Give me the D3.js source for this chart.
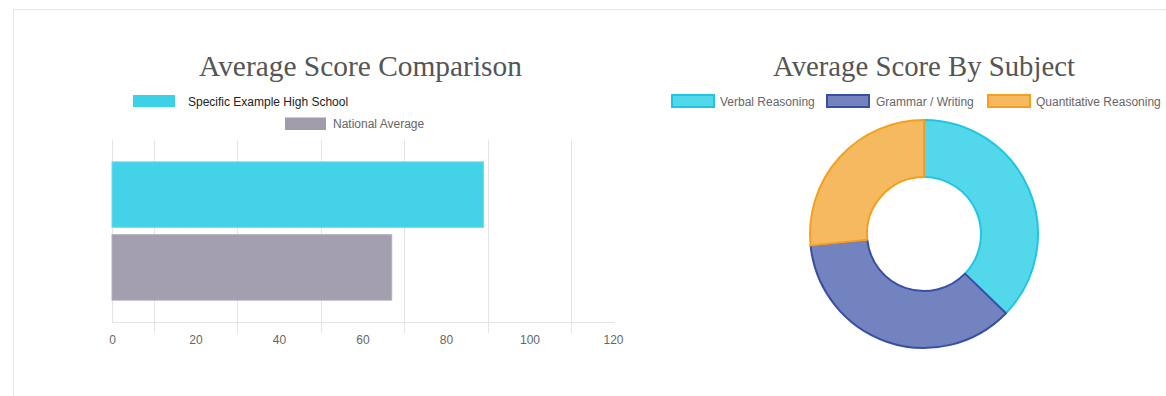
<!DOCTYPE html>
<html>
<head>
<meta charset="utf-8">
<script src="https://cdn.jsdelivr.net/npm/d3@7"></script>
<style>
  html, body { margin: 0; padding: 0; background: #fff; }
  svg { display: block; }
</style>
</head>
<body>
<svg id="chart" width="1166" height="396"></svg>
<script>
// ---- data ----
const barCategories = [""];
const barSeries = ["Specific Example High School", "National Average"];
const schoolValues = [89];
const nationalValues = [67];
const xTicks = [0, 20, 40, 60, 80, 100, 120];

const subjects = ["Verbal Reasoning", "Grammar / Writing", "Quantitative Reasoning"];
const subjectValues = [35, 34, 25];

// ---- styles ----
const barFill = ["#3dd1e7", "#a09cac"];
const barStroke = ["#6fdcec", "#b4b0be"];
const pieFill = ["#52d8ea", "#7383c0", "#f5ba60"];
const pieStroke = ["#1fc6e3", "#3a4fa3", "#f3a020"];
const grid = "#e4e4e4";

const svg = d3.select("#chart");

// panel border
svg.append("line").attr("x1", 13.5).attr("x2", 1166).attr("y1", 9.5).attr("y2", 9.5)
  .attr("stroke", "#e6e6e6").attr("stroke-width", 1);
svg.append("line").attr("x1", 13.5).attr("x2", 13.5).attr("y1", 9.5).attr("y2", 396)
  .attr("stroke", "#e6e6e6").attr("stroke-width", 1);

function fitTitle(text, cx, baseline, width) {
  const t = svg.append("text").text(text)
    .attr("x", cx).attr("y", baseline).attr("text-anchor", "middle")
    .attr("font-family", "'Liberation Serif', 'DejaVu Serif', serif")
    .attr("font-size", 26).attr("fill", "#555");
  const w = t.node().getComputedTextLength();
  t.attr("font-size", 26 * width / w);
  return t;
}

// ---- Left: horizontal bar chart ----
fitTitle("Average Score Comparison", 360.5, 76, 323);

const x = d3.scaleLinear().domain([0, 120]).range([112, 613]);
const plotTop = 140, plotBottom = 322;
const yCat = d3.scaleBand().domain(barCategories).range([plotTop, plotBottom]);

// grid (offset between ticks)
const gridVals = d3.range(10, 120, 20);
svg.append("g").selectAll("line").data(gridVals).join("line")
  .attr("x1", d => Math.round(x(d)) + 0.5).attr("x2", d => Math.round(x(d)) + 0.5)
  .attr("y1", plotTop).attr("y2", 333)
  .attr("stroke", grid).attr("stroke-width", 1);

// axis lines
svg.append("line").attr("x1", 112.5).attr("x2", 112.5).attr("y1", plotTop).attr("y2", plotBottom)
  .attr("stroke", grid);
svg.append("line").attr("x1", 112).attr("x2", 615).attr("y1", plotBottom + 0.5).attr("y2", plotBottom + 0.5)
  .attr("stroke", grid);

// bars
const seriesData = [schoolValues, nationalValues];
barCategories.forEach((cat, ci) => {
  const bw = yCat.bandwidth();
  const y0 = yCat(cat);
  const ySer = d3.scaleBand().domain(barSeries)
    .range([y0 + bw * 0.1, y0 + bw * 0.9]);
  barSeries.forEach((s, si) => {
    const v = seriesData[si][ci];
    const h = ySer.bandwidth() * 0.9;
    const yy = ySer(s) + ySer.bandwidth() * 0.05;
    svg.append("rect")
      .attr("x", x(0)).attr("y", yy)
      .attr("width", x(v) - x(0)).attr("height", h)
      .attr("fill", barFill[si]).attr("fill-opacity", 0.97)
      .attr("stroke", barStroke[si]).attr("stroke-width", 1);
  });
});

// x-axis tick labels
const xAxis = d3.axisBottom(x).tickValues(xTicks).tickSize(0).tickPadding(0);
const gx = svg.append("g").attr("transform", `translate(0,${plotBottom})`).call(xAxis);
gx.select(".domain").remove();
gx.selectAll("text").attr("y", 21.5).attr("dy", 0)
  .attr("font-family", "'Liberation Sans', Arial, sans-serif")
  .attr("font-size", 12).attr("fill", "#666");

// left legend
const legFont = "'Liberation Sans', Arial, sans-serif";
svg.append("rect").attr("x", 133).attr("y", 95).attr("width", 42).attr("height", 12).attr("fill", barFill[0]);
svg.append("text").text(barSeries[0]).attr("x", 188).attr("y", 105.5)
  .attr("font-family", legFont).attr("font-size", 12).attr("fill", "#222");
svg.append("rect").attr("x", 285).attr("y", 117.5).attr("width", 41).attr("height", 12.5).attr("fill", barFill[1]);
svg.append("text").text(barSeries[1]).attr("x", 333).attr("y", 128)
  .attr("font-family", legFont).attr("font-size", 12).attr("fill", "#666");

// ---- Right: doughnut ----
fitTitle("Average Score By Subject", 924, 76, 302);

const legendX = [672, 827, 988];
const legendTextX = [720, 876, 1036];
subjects.forEach((s, i) => {
  svg.append("rect").attr("x", legendX[i]).attr("y", 95).attr("width", 42).attr("height", 12)
    .attr("fill", pieFill[i]).attr("stroke", pieStroke[i]).attr("stroke-width", 2);
  svg.append("text").text(s).attr("x", legendTextX[i]).attr("y", 105.5)
    .attr("font-family", legFont).attr("font-size", 12).attr("fill", "#666");
});

const pie = d3.pie().sort(null).value(d => d);
const arc = d3.arc().innerRadius(57).outerRadius(114);
const gPie = svg.append("g").attr("transform", "translate(924,234)");
gPie.selectAll("path").data(pie(subjectValues)).join("path")
  .attr("d", arc)
  .attr("fill", (d, i) => pieFill[i])
  .attr("stroke", (d, i) => pieStroke[i])
  .attr("stroke-width", 2)
  .attr("stroke-linejoin", "round");
</script>
</body>
</html>
